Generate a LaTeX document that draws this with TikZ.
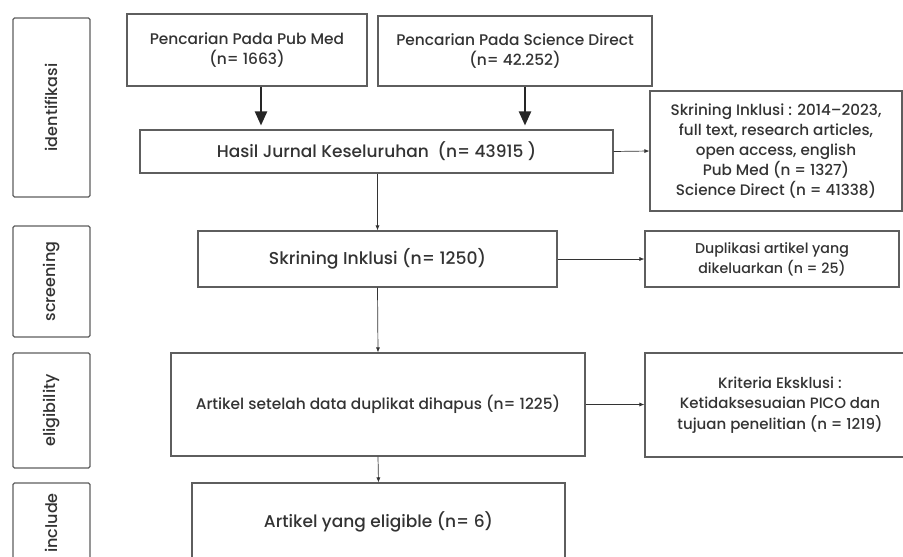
\documentclass[tikz,border=0pt]{standalone}
\usepackage{fontspec}
\setmainfont{Poppins}[UprightFont={* Medium}]
\usetikzlibrary{arrows.meta,positioning}
\definecolor{BoxLine}{HTML}{5E5E5E}
\definecolor{InkGray}{HTML}{333333}

\tikzset{
  flowbox/.style={draw=BoxLine, line width=1.1pt, align=center,
    text=InkGray, inner sep=2pt},
  phasebox/.style={flowbox, rounded corners=1.5pt, rotate=90,
    minimum height=77pt, font=\fontsize{16}{19}\selectfont},
  thinarrow/.style={draw=InkGray, line width=0.7pt,
    -{Latex[length=5pt,width=4pt]}},
  bigarrow/.style={draw=black!85, line width=2.2pt, shorten >=4pt,
    -{Triangle[length=14pt,width=12pt]}}
}

\begin{document}
\begin{tikzpicture}[x=1pt,y=-1pt]
  \useasboundingbox (0,0) rectangle (903,557);
  \clip (0,0) rectangle (903,557);
  \fill[white] (0,0) rectangle (903,557);

  % phases
  \node[phasebox, minimum width=179pt] (idf) at (51.5,107.5) {identifikasi};
  \node[phasebox, minimum width=111pt] (scr) at (51.5,281.5) {screening};
  \node[phasebox, minimum width=115pt] (elg) at (51.5,410.5) {eligibility};
  \node[phasebox, minimum width=80pt] (inc) at (51.5,523) {include};

  % sources
  \node[flowbox, minimum width=240pt, minimum height=72pt,
    font=\fontsize{15.4}{20}\selectfont] (pub) at (247,50)
    {Pencarian Pada Pub Med\\(n= 1663)};
  \node[flowbox, minimum width=274pt, minimum height=70pt,
    font=\fontsize{15.4}{20}\selectfont] (sd) at (515,51)
    {Pencarian Pada Science Direct\\(n= 42.252)};

  % main column
  \node[flowbox, minimum width=473pt, minimum height=43pt,
    font=\fontsize{17}{20}\selectfont] (hasil) at (376.5,151.5)
    {Hasil Jurnal Keseluruhan\ \ (n= 43915 )};
  \node[flowbox, minimum width=359pt, minimum height=56pt,
    font=\fontsize{17.2}{20}\selectfont] (skr) at (377.5,259)
    {Skrining Inklusi (n= 1250)};
  \node[flowbox, minimum width=414pt, minimum height=103pt,
    font=\fontsize{15.4}{18}\selectfont] (set) at (378,404.5)
    {Artikel setelah data duplikat dihapus (n= 1225)};
  \node[flowbox, minimum width=373pt, minimum height=78pt,
    font=\fontsize{17}{20}\selectfont] (elig) at (378.5,522)
    {Artikel yang eligible (n= 6)};

  % side column
  \node[flowbox, minimum width=252pt, minimum height=120pt,
    font=\fontsize{15.2}{19.8}\selectfont] (inkl) at (776,151)
    {Skrining Inklusi : 2014--2023,\\full text, research articles,\\open access, english\\Pub Med (n = 1327)\\Science Direct (n = 41338)};
  \node[flowbox, minimum width=254pt, minimum height=56pt,
    font=\fontsize{14.2}{20}\selectfont] (dup) at (772,259)
    {Duplikasi artikel yang\\dikeluarkan (n = 25)};
  \node[flowbox, minimum width=270pt, minimum height=104pt,
    font=\fontsize{15}{20.5}\selectfont] (krit) at (780,405)
    {Kriteria Eksklusi :\\Ketidaksesuaian PICO dan\\tujuan penelitian (n = 1219)};

  % connectors
  \draw[bigarrow] ([xshift=14pt]pub.south) -- ([xshift=14pt]pub.south |- hasil.north);
  \draw[bigarrow] ([xshift=10pt]sd.south) -- ([xshift=10pt]sd.south |- hasil.north);
  \draw[thinarrow] (hasil.east) -- (inkl.west);
  \draw[thinarrow] (skr.north |- hasil.south) -- (skr.north);
  \draw[thinarrow] (skr.east) -- (dup.west);
  \draw[thinarrow] (skr.south) -- (set.north);
  \draw[thinarrow] (set.east) -- (set.east -| krit.west);
  \draw[thinarrow] (set.south) -- (elig.north);
\end{tikzpicture}
\end{document}
